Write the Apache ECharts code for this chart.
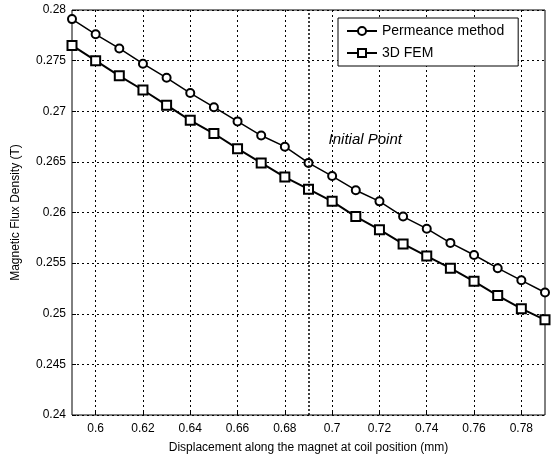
<!DOCTYPE html>
<html>
<head>
<meta charset="utf-8">
<script src="https://cdn.jsdelivr.net/npm/echarts@6/dist/echarts.min.js"></script>
<style>
  html, body { margin: 0; padding: 0; background: #fff; }
  #chart { width: 555px; height: 459px; }
</style>
</head>
<body>
<div id="chart"></div>
<script>
// displacement positions (mm)
const displacement = [0.59, 0.60, 0.61, 0.62, 0.63, 0.64, 0.65, 0.66, 0.67, 0.68, 0.69,
  0.70, 0.71, 0.72, 0.73, 0.74, 0.75, 0.76, 0.77, 0.78, 0.79]
const permeance = [0.2791, 0.2776, 0.2762, 0.2747, 0.2733, 0.2718, 0.2704, 0.2690, 0.2676, 0.2665, 0.2649,
  0.2636, 0.2622, 0.2611, 0.2596, 0.2584, 0.2570, 0.2558, 0.2545, 0.2533, 0.2521]
const fem = [0.2765, 0.2750, 0.2735, 0.2721, 0.2706, 0.2691, 0.2678, 0.2663, 0.2649, 0.2635, 0.2623,
  0.2611, 0.2596, 0.2583, 0.2569, 0.2557, 0.2545, 0.2532, 0.2518, 0.2505, 0.2494]
const xTicks = [0.6, 0.62, 0.64, 0.66, 0.68, 0.7, 0.72, 0.74, 0.76, 0.78]
const initialPoint = 0.69

const font = 'Liberation Sans, Arial, sans-serif'
const pairs = arr => displacement.map((x, i) => [x, arr[i]])
const trim = v => String(+v.toFixed(3))

const chart = echarts.init(document.getElementById('chart'))
chart.setOption({
  animation: false,
  backgroundColor: '#fff',
  grid: {
    left: 72, right: 10, top: 10, bottom: 44,
    show: true, borderColor: '#000', borderWidth: 1,
  },
  legend: {
    orient: 'vertical',
    left: 338, top: 18,
    padding: [6, 14, 6, 8],
    itemWidth: 30, itemHeight: 10, itemGap: 8,
    backgroundColor: '#fff',
    borderColor: '#000', borderWidth: 1,
    textStyle: { fontFamily: font, fontSize: 14, color: '#000' },
    data: ['Permeance method', '3D FEM'],
  },
  xAxis: {
    type: 'value',
    min: 0.59, max: 0.79,
    name: 'Displacement along the magnet at coil position (mm)',
    nameLocation: 'middle', nameGap: 27,
    nameTextStyle: { fontFamily: font, fontSize: 12, color: '#000' },
    axisLine: { show: false },
    axisTick: { inside: true, length: 4, lineStyle: { color: '#000' }, customValues: xTicks },
    axisLabel: { fontFamily: font, fontSize: 12, color: '#000', margin: 8, customValues: xTicks, formatter: trim },
    splitLine: { show: true, lineStyle: { color: '#000', type: [2, 3], width: 1 } },
  },
  yAxis: {
    type: 'value',
    min: 0.24, max: 0.28, interval: 0.005,
    name: 'Magnetic Flux Density (T)',
    nameLocation: 'middle', nameGap: 50,
    nameTextStyle: { fontFamily: font, fontSize: 12, color: '#000' },
    axisLine: { show: false },
    axisTick: { inside: true, length: 4, lineStyle: { color: '#000' } },
    axisLabel: { fontFamily: font, fontSize: 12, color: '#000', margin: 6, formatter: trim },
    splitLine: { show: true, lineStyle: { color: '#000', type: [2, 3], width: 1 } },
  },
  series: [
    {
      name: 'Permeance method',
      type: 'line',
      data: pairs(permeance),
      symbol: 'emptyCircle',
      symbolSize: 8,
      lineStyle: { color: '#000', width: 1.5 },
      itemStyle: { color: '#000', borderColor: '#000', borderWidth: 1.2 },
      markLine: {
        silent: true,
        symbol: 'none',
        label: { show: false },
        lineStyle: { color: '#000', type: [2, 2], width: 1.5 },
        data: [{ xAxis: initialPoint }],
      },
      markPoint: {
        symbol: 'circle', symbolSize: 0,
        label: {
          show: true, formatter: 'Initial Point',
          fontFamily: font, fontSize: 15, fontStyle: 'italic', color: '#000',
        },
        data: [{ coord: [0.714, 0.2672] }],
      },
    },
    {
      name: '3D FEM',
      type: 'line',
      data: pairs(fem),
      symbol: 'emptyRect',
      symbolSize: 9,
      lineStyle: { color: '#000', width: 2 },
      itemStyle: { color: '#000', borderColor: '#000', borderWidth: 2 },
    },
  ],
})
</script>
</body>
</html>
